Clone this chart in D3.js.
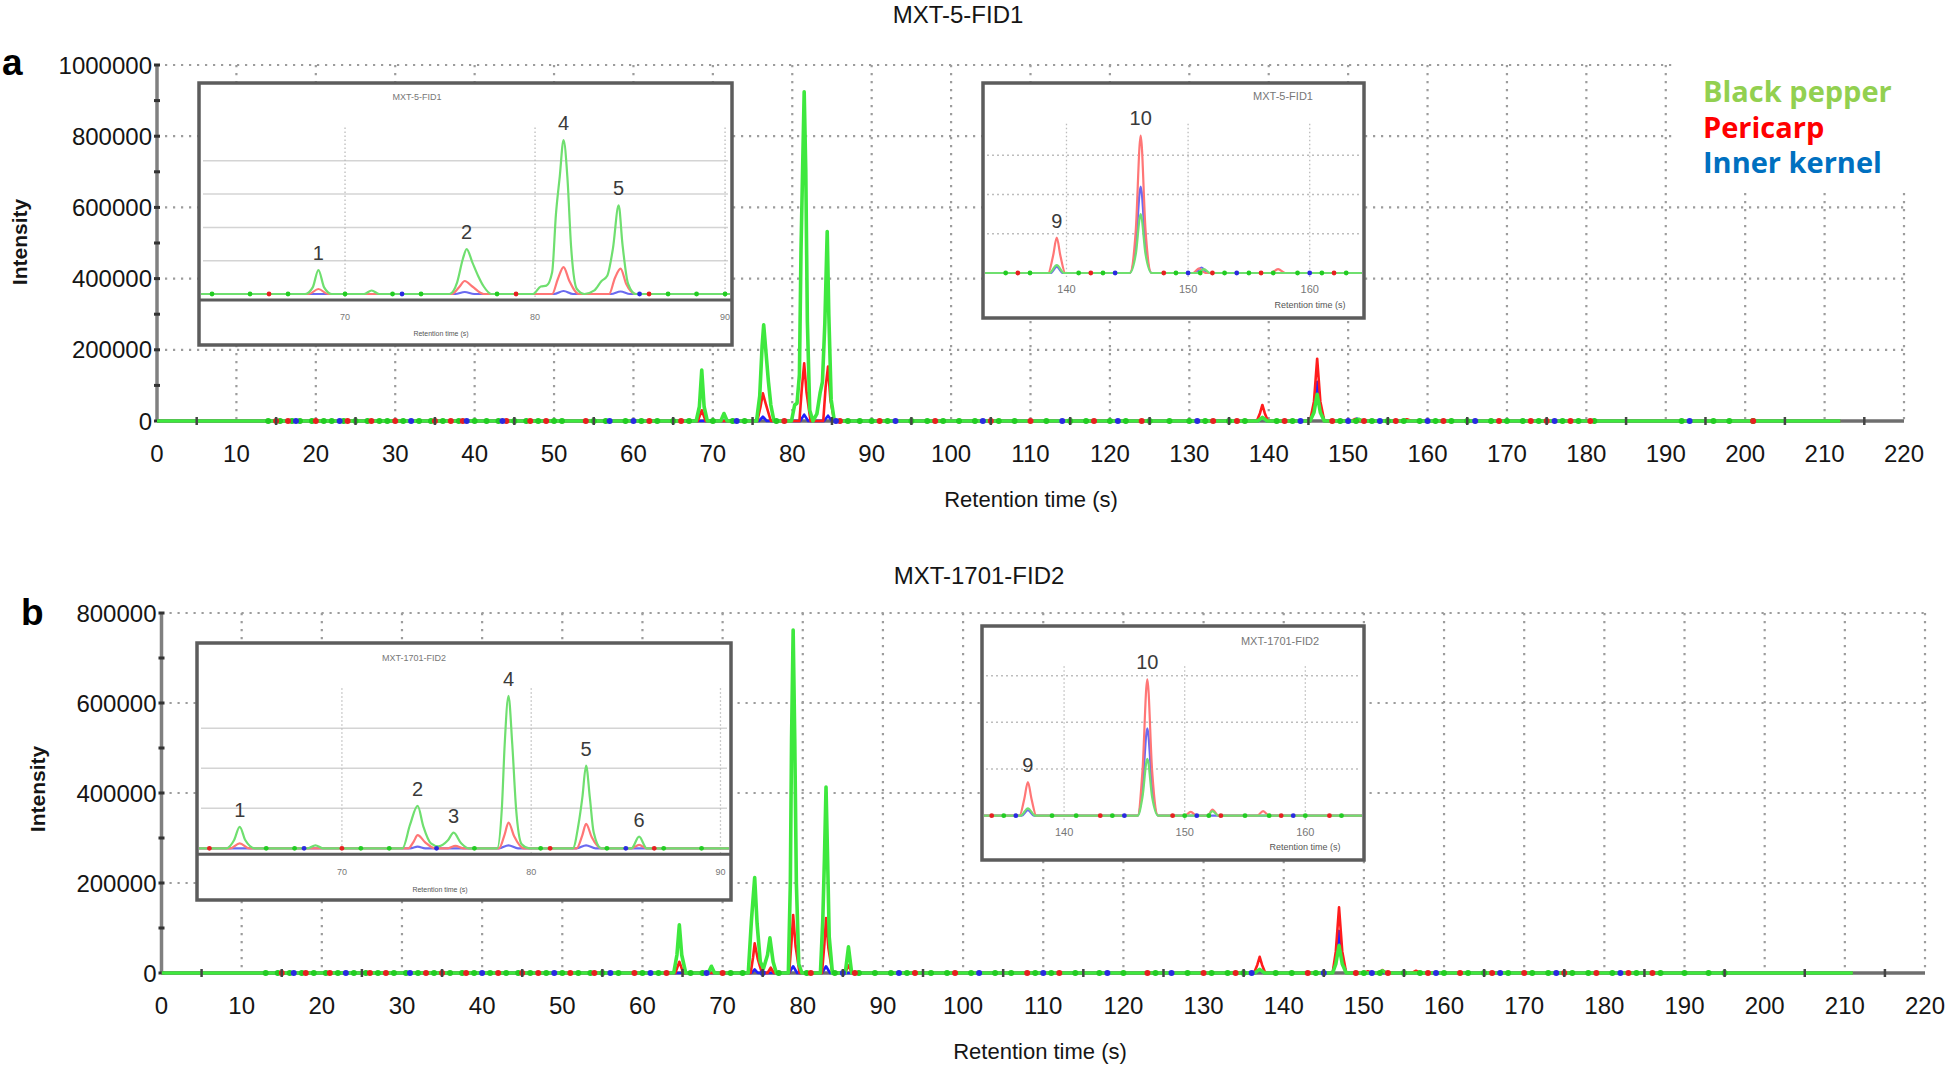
<!DOCTYPE html>
<html lang="en">
<head>
<meta charset="UTF-8">
<title>MXT chromatograms</title>
<script src="https://cdn.jsdelivr.net/npm/d3@7/dist/d3.min.js"></script>
<style>
    body { margin: 0; background: #fff; }
    svg { font-family: "Liberation Sans", Arial, sans-serif; }
    .grid { stroke: #9c9c9c; stroke-width: 2.2; stroke-dasharray: 2.2, 5.8; fill: none; }
    .tick-label { font-size: 24px; fill: #151515; }
</style>
</head>
<body>
<div id="chart"></div>
<script>
    // ---------- data ----------
    let seriesNames = ["Black pepper", "Pericarp", "Inner kernel"];
    let xTicks = [0, 10, 20, 30, 40, 50, 60, 70, 80, 90, 100, 110, 120, 130, 140, 150, 160, 170, 180, 190, 200, 210, 220];
    let xMinor = [5, 15, 25, 35, 45, 55, 65, 75, 85, 95, 105, 115, 125, 135, 145, 155, 165, 175, 185, 195, 205, 215];
    let yTicksA = [0, 200000, 400000, 600000, 800000, 1000000];
    let yMinorA = [100000, 300000, 500000, 700000, 900000];
    let yTicksB = [0, 200000, 400000, 600000, 800000];
    let yMinorB = [100000, 300000, 500000, 700000];

    // MXT-5-FID1 traces [time (s), intensity]
    let greenA = [[0, 0], [67.9, 0], [68.3, 40000], [68.6, 143000], [68.9, 40000], [69.3, 0],
        [71.0, 0], [71.4, 21000], [71.8, 0],
        [75.5, 0], [75.9, 70000], [76.2, 210000], [76.4, 270000], [76.7, 190000], [77.0, 110000], [77.3, 45000], [77.7, 0],
        [79.9, 0], [80.3, 45000], [80.6, 50000], [80.9, 130000], [81.1, 480000], [81.3, 705000], [81.5, 925000], [81.7, 705000], [81.9, 280000], [82.2, 30000], [82.6, 0],
        [83.1, 20000], [83.5, 78000], [83.8, 110000], [84.1, 274000], [84.4, 532000], [84.6, 300000], [84.9, 60000], [85.3, 0],
        [138.6, 0], [139.2, 10000], [139.8, 0],
        [145.2, 0], [145.7, 24000], [146.1, 75000], [146.5, 24000], [147.0, 0],
        [150.8, 0], [151.3, 5000], [151.8, 0], [212, 0]];
    let redA = [[0, 0], [68.1, 0], [68.6, 30000], [69.1, 0],
        [75.6, 0], [76.0, 40000], [76.3, 78000], [76.7, 45000], [77.3, 0],
        [80.9, 0], [81.2, 90000], [81.5, 162000], [81.8, 80000], [82.3, 0],
        [83.9, 0], [84.2, 95000], [84.5, 153000], [84.8, 60000], [85.3, 0],
        [138.5, 0], [138.9, 22000], [139.2, 45000], [139.5, 22000], [139.9, 0],
        [145.2, 0], [145.7, 55000], [146.1, 175000], [146.5, 55000], [147.0, 0],
        [150.4, 0], [150.9, 6000], [151.4, 0], [156.8, 0], [157.4, 5000], [158.0, 0], [212, 0]];
    let blueA = [[0, 0], [75.8, 0], [76.3, 12000], [76.8, 0],
        [81.0, 0], [81.5, 18000], [82.0, 0], [84.0, 0], [84.5, 15000], [85.0, 0],
        [138.7, 0], [139.2, 8000], [139.7, 0],
        [145.2, 0], [145.7, 35000], [146.1, 110000], [146.5, 35000], [147.0, 0],
        [150.6, 0], [151.1, 7000], [151.6, 0], [212, 0]];

    // MXT-1701-FID2 traces
    let greenB = [[0, 0], [63.9, 0], [64.3, 40000], [64.6, 107000], [64.9, 40000], [65.4, 0],
        [68.2, 0], [68.6, 15000], [69.0, 0],
        [73.2, 0], [73.6, 118000], [74.0, 212000], [74.3, 110000], [74.7, 25000], [75.1, 10000],
        [75.6, 40000], [75.9, 78000], [76.3, 25000], [76.7, 0],
        [78.2, 0], [78.45, 200000], [78.6, 520000], [78.8, 762000], [79.0, 520000], [79.2, 200000], [79.5, 20000], [79.9, 0],
        [82.2, 0], [82.5, 120000], [82.7, 252000], [82.9, 413000], [83.1, 252000], [83.3, 80000], [83.7, 0],
        [85.3, 0], [85.7, 58000], [86.1, 0],
        [136.4, 0], [137.0, 8000], [137.6, 0],
        [146.1, 0], [146.5, 20000], [146.9, 61000], [147.3, 20000], [147.8, 0],
        [151.9, 0], [152.3, 5000], [152.8, 0], [211, 0]];
    let redB = [[0, 0], [64.1, 0], [64.6, 25000], [65.1, 0],
        [73.5, 0], [73.8, 35000], [74.0, 66000], [74.4, 30000], [74.9, 0],
        [75.6, 0], [76.0, 12000], [76.4, 0],
        [78.3, 0], [78.6, 70000], [78.8, 129000], [79.1, 60000], [79.6, 0],
        [82.4, 0], [82.7, 65000], [82.9, 122000], [83.2, 55000], [83.7, 0],
        [85.3, 0], [85.7, 17000], [86.1, 0],
        [136.3, 0], [136.7, 18000], [137.0, 36000], [137.3, 18000], [137.7, 0],
        [146.1, 0], [146.5, 48000], [146.9, 146000], [147.3, 48000], [147.8, 0],
        [150.0, 0], [150.5, 4000], [151.0, 0], [151.9, 0], [152.3, 6500], [152.8, 0],
        [156.0, 0], [156.5, 5000], [157.0, 0], [211, 0]];
    let blueB = [[0, 0], [73.6, 0], [74.0, 8000], [74.4, 0],
        [78.3, 0], [78.8, 15000], [79.3, 0], [82.4, 0], [82.9, 15000], [83.4, 0],
        [136.5, 0], [137.0, 6000], [137.5, 0],
        [146.1, 0], [146.5, 30000], [146.9, 93500], [147.3, 30000], [147.8, 0], [211, 0]];

    // scattered baseline markers (time, s)
    let markGreenA = [14, 15.5, 17, 18, 19.5, 21, 22, 23.5, 25, 26.5, 28, 29, 31, 33, 34.5, 36, 38, 40, 41.5, 43, 45, 46.5, 48, 50, 51, 55, 56.5, 59, 61, 63, 65, 67, 70, 72.5, 74, 78, 87, 88.5, 90, 92, 95, 97, 99, 101, 103, 106, 108, 112, 115, 117, 120, 122, 125, 127.5, 130, 132, 135, 137, 141, 143, 149, 151, 153, 155, 157, 159, 161, 163, 165, 168, 170, 172, 174, 177, 179, 181, 192, 196, 198, 201];
    let markRedA = [15, 16.5, 20, 24, 27, 30, 35, 37, 38.5, 44, 47, 49, 54, 62, 66, 79, 86, 91, 98, 105, 110, 118, 124, 133, 136, 142, 148, 152, 156, 162, 169, 173, 175, 178, 180.5, 201];
    let markBlueA = [17.5, 23, 32, 39, 43.5, 57, 60, 73, 85.5, 93, 104, 114, 121, 131, 144, 150, 154, 160, 166, 176, 193];
    let markGreenB = [13, 14.5, 16, 17.5, 19, 20.5, 22, 24, 25.5, 27, 29, 30.5, 32, 34, 36, 37.5, 39, 41, 43, 44.5, 46, 48, 50, 52, 53.5, 55, 57, 60, 62, 66, 67.5, 71, 72.5, 77, 80.5, 84, 87, 89, 91, 93, 96, 98, 101, 104, 106, 109, 111, 114, 117, 120, 124, 128, 131, 133, 135, 139, 141, 144, 150, 152, 155, 157, 160, 163, 165, 168, 171, 173, 176, 178, 181, 184, 187, 190, 193, 195];
    let markRedB = [15, 18, 21, 26, 28, 33, 35, 38, 42, 45, 47, 51, 54, 59, 63, 70, 81, 86.5, 94, 99, 108, 112, 123, 130, 134, 143, 149, 153, 158, 162, 166, 170, 175, 179, 183, 186];
    let markBlueB = [16.5, 23, 31, 40, 49, 56, 61, 68, 75, 85, 92, 102, 110, 118, 126, 136, 145, 151, 159, 167, 174, 182];

    // peak labels in the zoom insets [label, time, peak height]
    let labelsA1 = [["1", 68.6, 143000], ["2", 76.4, 270000], ["4", 81.5, 925000], ["5", 84.4, 532000]];
    let labelsA2 = [["9", 139.2, 45000], ["10", 146.1, 175000]];
    let labelsB1 = [["1", 64.6, 107000], ["2", 74.0, 212000], ["3", 75.9, 78000], ["4", 78.8, 762000], ["5", 82.9, 413000], ["6", 85.7, 58000]];
    let labelsB2 = [["9", 137.0, 36000], ["10", 146.9, 146000]];

    // ---------- drawing ----------
    let mainColors = ["#3ee83e", "#ff1c1c", "#2020ff"];
    let markColors = ["#22cc22", "#e62020", "#2a2ae0"];
    let insetColors = ["#6fdf6f", "#ff7676", "#6a6af0"];
    let legendColors = ["#92d050", "#ff0000", "#0070c0"];

    let svg = d3.select("#chart").append("svg")
        .attr("width", 1948).attr("height", 1065);

    let drawPanel = (p) => {
        let x = d3.scaleLinear().domain([0, 220]).range(p.xr);
        let y = d3.scaleLinear().domain([0, p.yMax]).range(p.yr);
        let g = svg.append("g");
        let clipId = "clip" + p.id;
        g.append("defs").append("clipPath").attr("id", clipId).append("rect")
            .attr("x", p.xr[0]).attr("y", p.yr[1] - 5)
            .attr("width", p.xr[1] - p.xr[0]).attr("height", p.yr[0] - p.yr[1] + 10);

        // grid
        g.selectAll(".vg").data(xTicks.slice(1)).enter().append("line").attr("class", "grid")
            .attr("x1", d => x(d)).attr("x2", d => x(d)).attr("y1", y(p.yMax)).attr("y2", y(0));
        g.selectAll(".hg").data(p.yTicks.slice(1)).enter().append("line").attr("class", "grid")
            .attr("x1", x(0)).attr("x2", x(220)).attr("y1", d => y(d)).attr("y2", d => y(d));

        // legend background hides grid
        if (p.legend) {
            g.append("rect").attr("x", 1677).attr("y", 52).attr("width", 271).attr("height", 141).attr("fill", "#fff");
        }

        // axes
        g.append("line").attr("x1", x(0)).attr("x2", x(0)).attr("y1", y(0)).attr("y2", y(p.yMax))
            .attr("stroke", "#808080").attr("stroke-width", 3.5);
        g.append("line").attr("x1", x(0)).attr("x2", x(220)).attr("y1", y(0)).attr("y2", y(0))
            .attr("stroke", "#6e6e6e").attr("stroke-width", 3.5);
        g.selectAll(".yt").data(p.yTicks.concat(p.yMinor)).enter().append("line")
            .attr("x1", x(0) - 3).attr("x2", x(0) + 3).attr("y1", d => y(d)).attr("y2", d => y(d))
            .attr("stroke", "#333").attr("stroke-width", 3);
        g.selectAll(".ytl").data(p.yTicks).enter().append("text").attr("class", "tick-label")
            .attr("x", x(0) - 5).attr("y", d => y(d)).attr("dy", "0.36em").attr("text-anchor", "end")
            .text(d => d);
        g.selectAll(".xtl").data(xTicks).enter().append("text").attr("class", "tick-label")
            .attr("x", d => x(d)).attr("y", y(0) + 41).attr("text-anchor", "middle")
            .text(d => d);

        // traces
        let line = d3.line().x(d => x(d[0])).y(d => y(d[1]));
        let tr = g.append("g").attr("clip-path", "url(#" + clipId + ")");
        [2, 1, 0].forEach(i => {
            tr.append("path").attr("d", line(p.series[i])).attr("fill", "none")
                .attr("stroke", mainColors[i]).attr("stroke-width", i == 0 ? 3.6 : 2.6)
                .attr("stroke-linejoin", "round");
        });
        [0, 1, 2].forEach(i => {
            tr.selectAll(".m" + i).data(p.marks[i]).enter().append("circle")
                .attr("cx", d => x(d)).attr("cy", y(0)).attr("r", 3)
                .attr("fill", markColors[i]);
        });
        g.selectAll(".xm").data(xMinor).enter().append("line")
            .attr("x1", d => x(d)).attr("x2", d => x(d)).attr("y1", y(0) - 4).attr("y2", y(0) + 4)
            .attr("stroke", "#444").attr("stroke-width", 2.5);

        // titles
        g.append("text").attr("x", p.titleX).attr("y", p.titleY).attr("text-anchor", "middle")
            .attr("font-size", 24).attr("fill", "#151515").text(p.title);
        g.append("text").attr("x", p.xtX).attr("y", y(0) + 86).attr("text-anchor", "middle")
            .attr("font-size", 22).attr("fill", "#151515").text("Retention time (s)");
        g.append("text").attr("transform", "translate(" + p.ytX + "," + p.ytY + ") rotate(-90)")
            .attr("text-anchor", "middle").attr("font-size", 21).attr("font-weight", "bold")
            .attr("fill", "#151515").text("Intensity");
        g.append("text").attr("x", p.letterX).attr("y", p.letterY).attr("font-size", 37)
            .attr("font-weight", "bold").attr("fill", "#000").text(p.letter);

        p.insets.forEach(ins => drawInset(g, ins, p));

        if (p.legend) {
            g.selectAll(".lg").data(seriesNames).enter().append("text")
                .attr("x", 1703).attr("y", (d, i) => 102 + i * 35.5)
                .attr("font-size", 29).attr("font-weight", "bold")
                .attr("font-family", "'Open Sans', 'Liberation Sans', sans-serif")
                .attr("fill", (d, i) => legendColors[i]).text(d => d);
        }
    };

    let drawInset = (g, ins, p) => {
        let ig = g.append("g");
        let b = ins.box;
        ig.append("rect").attr("x", b[0]).attr("y", b[1]).attr("width", b[2]).attr("height", b[3])
            .attr("fill", "#fff").attr("stroke", "#5c5c5c").attr("stroke-width", 3.5);
        let x = d3.scaleLinear().domain(ins.xd).range([b[0] + 2, b[0] + b[2] - 2]);
        let y = d3.scaleLinear().domain([0, ins.yTop]).range([ins.base, ins.top]);
        // grid
        ig.selectAll(".ihg").data(ins.grid).enter().append("line")
            .attr("x1", b[0] + 4).attr("x2", b[0] + b[2] - 4).attr("y1", d => y(d)).attr("y2", d => y(d))
            .attr("stroke", ins.solidGrid ? "#d4d4d4" : "#bdbdbd").attr("stroke-width", 1.5)
            .attr("stroke-dasharray", ins.solidGrid ? null : "2,3");
        ig.selectAll(".ivg").data(ins.ticks).enter().append("line")
            .attr("x1", d => x(d)).attr("x2", d => x(d)).attr("y1", y(ins.yTop)).attr("y2", ins.base + (ins.axisLine ? 6 : 4))
            .attr("stroke", "#bcbcbc").attr("stroke-width", 1.3).attr("stroke-dasharray", "1.5,2.5");
        if (ins.axisLine) {
            ig.append("line").attr("x1", b[0]).attr("x2", b[0] + b[2]).attr("y1", ins.base + 6).attr("y2", ins.base + 6)
                .attr("stroke", "#5c5c5c").attr("stroke-width", 3);
        }
        ig.selectAll(".itl").data(ins.ticks).enter().append("text")
            .attr("x", d => x(d)).attr("y", ins.base + ins.tickDy).attr("text-anchor", "middle")
            .attr("font-size", ins.fs).attr("fill", "#777").text(d => d);
        ig.append("text").attr("x", ins.axTitle[0]).attr("y", ins.axTitle[1]).attr("text-anchor", "middle")
            .attr("font-size", ins.fs - 2).attr("fill", "#555").text("Retention time (s)");
        ig.append("text").attr("x", ins.titlePos[0]).attr("y", ins.titlePos[1]).attr("text-anchor", "middle")
            .attr("font-size", ins.fs).attr("fill", "#777").text(p.title);

        let cid = "ic" + ins.id;
        ig.append("defs").append("clipPath").attr("id", cid).append("rect")
            .attr("x", b[0] + 2).attr("y", b[1] + 2).attr("width", b[2] - 4).attr("height", b[3] - 4);
        let line = d3.line().curve(d3.curveMonotoneX).x(d => x(d[0])).y(d => y(d[1]));
        let tr = ig.append("g").attr("clip-path", "url(#" + cid + ")");
        [2, 1, 0].forEach(i => {
            tr.append("path").attr("d", line(p.series[i])).attr("fill", "none")
                .attr("stroke", insetColors[i]).attr("stroke-width", 2.2);
        });
        [0, 1, 2].forEach(i => {
            tr.selectAll(".im" + i).data(p.marks[i].filter(d => d > ins.xd[0] && d < ins.xd[1])).enter()
                .append("circle").attr("cx", d => x(d)).attr("cy", ins.base).attr("r", 2.4)
                .attr("fill", markColors[i]);
        });
        ig.selectAll(".pl").data(ins.labels).enter().append("text")
            .attr("x", d => x(d[1])).attr("y", d => y(d[2]) - 10)
            .attr("text-anchor", "middle").attr("font-size", 20).attr("fill", "#3a3a3a")
            .text(d => d[0]);
    };

    drawPanel({
        id: "A", title: "MXT-5-FID1", xr: [157, 1904], yr: [421, 65], yMax: 1000000,
        yTicks: yTicksA, yMinor: yMinorA, series: [greenA, redA, blueA],
        marks: [markGreenA, markRedA, markBlueA], legend: true,
        titleX: 958, titleY: 23, xtX: 1031, ytX: 27, ytY: 242, letter: "a", letterX: 2, letterY: 75,
        insets: [
            { id: "A1", box: [199, 83, 533, 262], xd: [62.42, 90.26], yTop: 1000000, base: 294, top: 127.5,
              grid: [200000, 400000, 600000, 800000], solidGrid: true, ticks: [70, 80, 90], axisLine: true,
              tickDy: 26, fs: 9, axTitle: [441, 336], titlePos: [417, 100], labels: labelsA1 },
            { id: "A2", box: [983, 83, 381, 235], xd: [133.3, 164.3], yTop: 190000, base: 273, top: 123.7,
              grid: [50000, 100000, 150000], solidGrid: false, ticks: [140, 150, 160], axisLine: false,
              tickDy: 20, fs: 11, axTitle: [1310, 308], titlePos: [1283, 100], labels: labelsA2 }
        ]
    });
    drawPanel({
        id: "B", title: "MXT-1701-FID2", xr: [161.5, 1925], yr: [973, 613], yMax: 800000,
        yTicks: yTicksB, yMinor: yMinorB, series: [greenB, redB, blueB],
        marks: [markGreenB, markRedB, markBlueB], legend: false,
        titleX: 979, titleY: 584, xtX: 1040, ytX: 45, ytY: 789, letter: "b", letterX: 21, letterY: 625,
        insets: [
            { id: "B1", box: [197, 643, 534, 257], xd: [62.45, 90.45], yTop: 800000, base: 848.3, top: 688.3,
              grid: [200000, 400000, 600000], solidGrid: true, ticks: [70, 80, 90], axisLine: true,
              tickDy: 27, fs: 9, axTitle: [440, 892], titlePos: [414, 661], labels: labelsB1 },
            { id: "B2", box: [982, 626, 382, 234], xd: [133.36, 164.7], yTop: 160000, base: 815.7, top: 666.3,
              grid: [50000, 100000, 150000], solidGrid: false, ticks: [140, 150, 160], axisLine: false,
              tickDy: 20, fs: 11, axTitle: [1305, 850], titlePos: [1280, 645], labels: labelsB2 }
        ]
    });
</script>
</body>
</html>
